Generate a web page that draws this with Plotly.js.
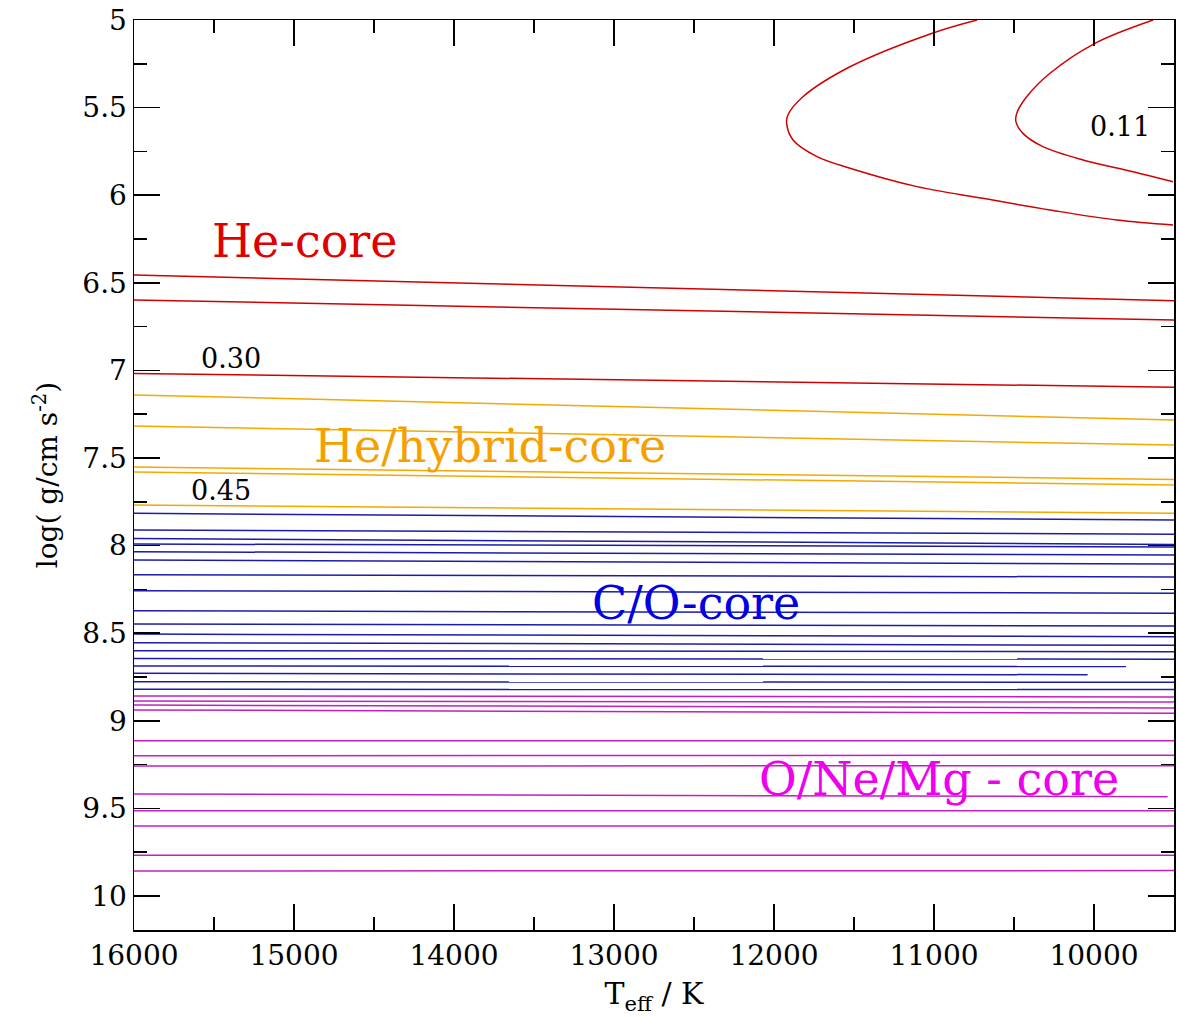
<!DOCTYPE html>
<html>
<head>
<meta charset="utf-8">
<script src="https://cdn.plot.ly/plotly-3.0.1.min.js"></script>
<style>html,body{margin:0;padding:0;background:#fff;}#chart{width:1179px;height:1025px;}</style>
</head>
<body>
<div id="chart"></div>
<script>
// x range ends (Teff, K)
const teffHot = 16000;
const teffCool = 9500;

// He-core (red) straight-ish tracks: log g at hot end and cool end
const redLeft  = [6.455, 6.598, 7.017];
const redRight = [6.602, 6.712, 7.096];

// He/hybrid-core (orange)
const orangeLeft  = [7.140, 7.317, 7.551, 7.580, 7.768];
const orangeRight = [7.283, 7.426, 7.622, 7.654, 7.816];

// C/O-core (blue)
const blueLeft  = [7.816, 7.911, 7.960, 7.991, 8.035, 8.082, 8.166, 8.257, 8.372, 8.447, 8.505, 8.554, 8.600, 8.645, 8.687, 8.729, 8.777, 8.820];
const blueRight = [7.854, 7.935, 7.993, 8.008, 8.054, 8.105, 8.179, 8.272, 8.386, 8.459, 8.520, 8.569, 8.606, 8.648, 8.690, 8.737, 8.780, 8.822];
const blueEnd   = [9500, 9500, 9500, 9500, 9500, 9500, 9500, 9500, 9500, 9500, 9500, 9500, 9500, 9500, 9800, 10040, 9500, 9500];

// O/Ne/Mg-core (magenta)
const magLeft  = [8.858, 8.887, 8.910, 8.938, 9.114, 9.199, 9.258, 9.418, 9.513, 9.600, 9.768, 9.857];
const magRight = [8.864, 8.893, 8.927, 8.957, 9.114, 9.197, 9.256, 9.433, 9.513, 9.600, 9.768, 9.855];
const magEnd   = [9500, 9500, 9500, 9500, 9500, 9500, 9500, 9540, 9500, 9500, 9500, 9500];

// Low-mass red curves (top right)
const outerTeff = [10731, 11006, 11525, 11819, 11913, 11921, 11881, 11731, 11525, 11106, 10694, 10275, 9856, 9506];
const outerLogg = [5.000, 5.074, 5.267, 5.438, 5.542, 5.590, 5.685, 5.780, 5.846, 5.951, 6.018, 6.084, 6.142, 6.170];
const innerTeff = [9631, 9994, 10275, 10421, 10483, 10488, 10444, 10319, 10069, 9756, 9506];
const innerLogg = [5.000, 5.133, 5.304, 5.438, 5.533, 5.580, 5.647, 5.723, 5.799, 5.866, 5.923];

const cRed = '#d00000', cOrange = '#f5a800', cBlue = '#1c1ca8', cMag = '#c020c0';
const traces = [];
function addSet(left, right, ends, color) {
  for (let i = 0; i < left.length; i++) {
    const end = ends ? ends[i] : teffCool;
    traces.push({x: [teffHot, end], y: [left[i], right[i]], mode: 'lines', line: {color: color, width: 1.5}, hoverinfo: 'skip', showlegend: false});
  }
}
addSet(redLeft, redRight, null, cRed);
addSet(orangeLeft, orangeRight, null, cOrange);
addSet(blueLeft, blueRight, blueEnd, cBlue);
addSet(magLeft, magRight, magEnd, cMag);
traces.push({x: outerTeff, y: outerLogg, mode: 'lines', line: {color: cRed, width: 1.5, shape: 'spline'}, showlegend: false});
traces.push({x: innerTeff, y: innerLogg, mode: 'lines', line: {color: cRed, width: 1.5, shape: 'spline'}, showlegend: false});

const serif = '"DejaVu Serif", "Liberation Serif", serif';
const axisCommon = {
  showgrid: false, zeroline: false, showline: true, linecolor: '#000', linewidth: 1.5,
  mirror: 'allticks', ticks: 'inside', ticklen: 26, tickwidth: 1.5, tickcolor: '#000',
  tickfont: {family: serif, size: 28, color: '#000'}
};
const layout = {
  width: 1179, height: 1025,
  margin: {l: 134, r: 5, t: 20, b: 95},
  paper_bgcolor: '#fff', plot_bgcolor: '#fff',
  font: {family: serif, color: '#000'},
  xaxis: Object.assign({}, axisCommon, {
    range: [teffHot, teffCool], tickmode: 'linear', tick0: 0, dtick: 1000, tickformat: 'd',
    minor: {ticks: 'inside', ticklen: 13, tickwidth: 1.5, tickcolor: '#000', dtick: 500, tick0: 0},
    title: {text: 'T<sub>eff</sub> / K', font: {family: serif, size: 30, color: '#000'}, standoff: 12}
  }),
  yaxis: Object.assign({}, axisCommon, {
    range: [10.194, 5], tickmode: 'linear', tick0: 5, dtick: 0.5,
    minor: {ticks: 'inside', ticklen: 13, tickwidth: 1.5, tickcolor: '#000', dtick: 0.25, tick0: 5},
    title: {text: 'log( g/cm s<sup>-2</sup>)', font: {family: serif, size: 28, color: '#000'}, standoff: 16}
  }),
  annotations: [
    {x: 15525, y: 6.26, xanchor: 'left', yanchor: 'middle', text: 'He-core', showarrow: false, font: {family: serif, size: 46, color: '#e00000'}},
    {x: 15394, y: 6.93, xanchor: 'center', yanchor: 'middle', text: '0.30', showarrow: false, font: {family: serif, size: 27, color: '#000'}},
    {x: 14888, y: 7.43, xanchor: 'left', yanchor: 'middle', text: 'He/hybrid-core', showarrow: false, font: {family: serif, size: 46, color: '#f5a000'}},
    {x: 15456, y: 7.683, xanchor: 'center', yanchor: 'middle', text: '0.45', showarrow: false, font: {family: serif, size: 27, color: '#000'}},
    {x: 13150, y: 8.33, xanchor: 'left', yanchor: 'middle', text: 'C/O-core', showarrow: false, font: {family: serif, size: 46, color: '#0000e0'}},
    {x: 12106, y: 9.33, xanchor: 'left', yanchor: 'middle', text: 'O/Ne/Mg - core', showarrow: false, font: {family: serif, size: 46, color: '#ee00ee'}},
    {x: 9837, y: 5.61, xanchor: 'center', yanchor: 'middle', text: '0.11', showarrow: false, font: {family: serif, size: 27, color: '#000'}}
  ]
};
Plotly.newPlot('chart', traces, layout, {displayModeBar: false, staticPlot: true});
</script>
</body>
</html>
